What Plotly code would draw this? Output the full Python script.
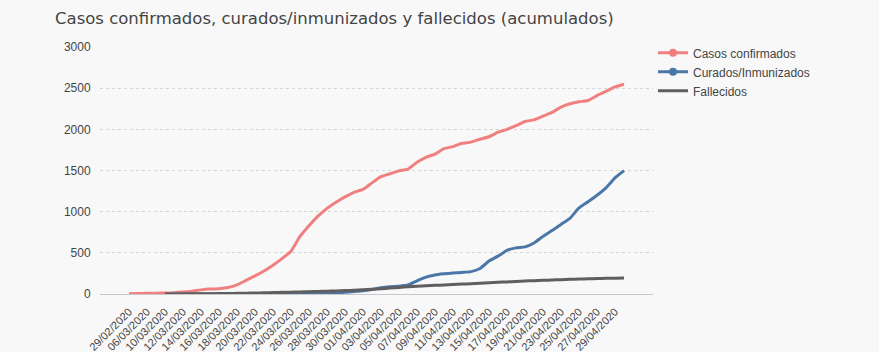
import plotly.graph_objects as go

fechas = [
    "29/02/2020", "03/03/2020", "06/03/2020", "08/03/2020",
    "10/03/2020", "11/03/2020", "12/03/2020", "13/03/2020", "14/03/2020", "15/03/2020",
    "16/03/2020", "17/03/2020", "18/03/2020", "19/03/2020", "20/03/2020", "21/03/2020",
    "22/03/2020", "23/03/2020", "24/03/2020", "25/03/2020", "26/03/2020", "27/03/2020",
    "28/03/2020", "29/03/2020", "30/03/2020", "31/03/2020",
    "01/04/2020", "02/04/2020", "03/04/2020", "04/04/2020", "05/04/2020", "06/04/2020",
    "07/04/2020", "08/04/2020", "09/04/2020", "10/04/2020", "11/04/2020", "12/04/2020",
    "13/04/2020", "14/04/2020", "15/04/2020", "16/04/2020", "17/04/2020", "18/04/2020",
    "19/04/2020", "20/04/2020", "21/04/2020", "22/04/2020", "23/04/2020", "24/04/2020",
    "25/04/2020", "26/04/2020", "27/04/2020", "28/04/2020", "29/04/2020", "30/04/2020",
]

confirmados = [
    2, 5, 8, 10,
    12, 15, 25, 35, 50, 60, 65, 78, 110, 165, 220, 280,
    350, 430, 520, 700, 830, 945, 1040, 1115, 1180, 1235,
    1270, 1350, 1425, 1460, 1495, 1518, 1600, 1660, 1700, 1765,
    1790, 1830, 1845, 1880, 1910, 1965, 2000, 2045, 2095, 2115,
    2160, 2205, 2270, 2310, 2335, 2350, 2410, 2460, 2515, 2547,
]

curados = [
    None, None, None, None,
    0, 0, 0, 1, 1, 1, 2, 2, 2, 2, 2, 2,
    3, 3, 3, 3, 5, 7, 10, 12, 20, 30,
    40, 55, 75, 88, 95, 110, 160, 205, 232, 245,
    255, 262, 272, 310, 400, 460, 530, 560, 572, 620,
    700, 770, 845, 920, 1045, 1120, 1200, 1290, 1410, 1498,
]

fallecidos = [
    None, None, None, None,
    0, 1, 2, 3, 3, 4, 5, 6, 8, 10, 12, 14,
    17, 20, 22, 25, 28, 31, 34, 37, 41, 46,
    52, 58, 64, 72, 80, 88, 95, 100, 105, 110,
    115, 120, 125, 130, 137, 142, 147, 152, 157, 162,
    166, 170, 174, 178, 181, 184, 187, 190, 192, 194,
]

etiquetas_x = [fechas[0], fechas[2]] + fechas[4::2]

series = [
    ("Casos confirmados", confirmados, "#F08080", True),
    ("Curados/Inmunizados", curados, "#4A76A8", True),
    ("Fallecidos", fallecidos, "#5F5F5F", False),
]

fig = go.Figure()
for nombre, valores, color, marcador in series:
    fig.add_trace(go.Scatter(
        x=fechas, y=valores, name=nombre, mode="lines",
        line=dict(color=color, width=3, shape="spline", smoothing=0.5),
        showlegend=False, hoverinfo="x+y+name",
    ))
for nombre, valores, color, marcador in series:
    fig.add_trace(go.Scatter(
        x=[None], y=[None], name=nombre,
        mode="lines+markers" if marcador else "lines",
        line=dict(color=color, width=3),
        marker=dict(color=color, size=8),
        showlegend=True,
    ))

n = len(fechas)
fig.update_layout(
    width=879, height=352,
    margin=dict(l=100, r=226, t=47, b=58),
    paper_bgcolor="#F8F8F8", plot_bgcolor="#F8F8F8",
    title=dict(
        text="Casos confirmados, curados/inmunizados y fallecidos (acumulados)",
        x=55 / 879, xanchor="left", xref="container",
        y=1 - 18 / 352, yanchor="middle", yref="container",
        font=dict(family="DejaVu Sans", size=16.5, color="#444444"),
    ),
    legend=dict(
        x=1.0, xanchor="left", y=1.035, yanchor="top",
        font=dict(family="Liberation Sans, Arial", size=12, color="#444444"),
        bgcolor="rgba(0,0,0,0)", tracegroupgap=0,
    ),
    font=dict(family="Liberation Sans, Arial", color="#444444"),
)
fig.update_xaxes(
    type="category", categoryorder="array", categoryarray=fechas,
    range=[-3.22, n - 1 + 3.22], automargin=False,
    tickmode="array", tickvals=etiquetas_x, ticktext=etiquetas_x,
    tickangle=-45, tickfont=dict(size=11, color="#444444"),
    showgrid=False, zeroline=False,
    showline=True, linecolor="#C8C8C8", linewidth=1,
    ticks="outside", ticklen=6, tickcolor="rgba(0,0,0,0)",
)
fig.update_yaxes(
    range=[0, 3000], dtick=500, tick0=0, automargin=False,
    tickfont=dict(size=12, color="#444444"),
    showgrid=True, gridcolor="#D6D6D6", gridwidth=1, griddash="3px,3px",
    zeroline=False, showline=False,
    ticks="outside", ticklen=6, tickcolor="rgba(0,0,0,0)",
)

fig.write_html("out.html")
